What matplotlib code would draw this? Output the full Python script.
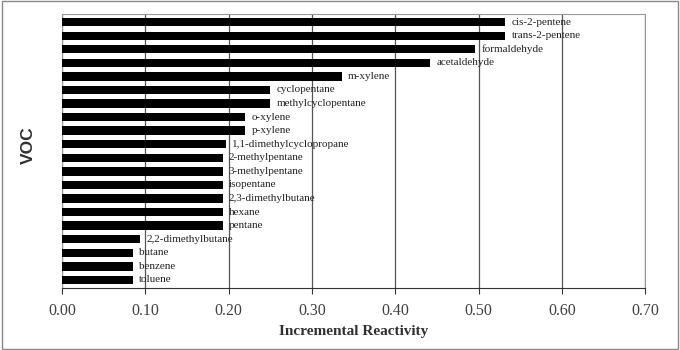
import matplotlib.pyplot as plt
import numpy as np

# compuestos, de arriba hacia abajo
voc = ["cis-2-pentene", "trans-2-pentene", "formaldehyde", "acetaldehyde",
       "m-xylene", "cyclopentane", "methylcyclopentane", "o-xylene", "p-xylene",
       "1,1-dimethylcyclopropane", "2-methylpentane", "3-methylpentane",
       "isopentane", "2,3-dimethylbutane", "hexane", "pentane",
       "2,2-dimethylbutane", "butane", "benzene", "toluene"]
reactivity = [0.532, 0.532, 0.496, 0.442, 0.336, 0.250, 0.250, 0.220, 0.220,
              0.197, 0.193, 0.193, 0.193, 0.193, 0.193, 0.193,
              0.094, 0.085, 0.085, 0.085]
xticks = [0.0, 0.1, 0.2, 0.3, 0.4, 0.5, 0.6, 0.7]

plt.rcParams['font.family'] = ['Liberation Serif', 'DejaVu Serif']

fig = plt.figure(figsize=(6.8, 3.5), dpi=100)
ax = fig.add_axes([0.091, 0.177, 0.858, 0.783])

y = np.arange(len(voc))[::-1]
ax.barh(y, reactivity, height=0.62, color="black", zorder=3)
for yi, v, name in zip(y, reactivity, voc):
    ax.text(v + 0.0075, yi, name, va="center", ha="left", fontsize=8,
            color="#222222", zorder=4)

ax.set_xlim(0, 0.7)
ax.set_ylim(-0.6, len(voc) - 0.4)
ax.set_xticks(xticks)
ax.set_xticklabels([f"{t:.2f}" for t in xticks], fontsize=11.5, color="#404040")
ax.set_yticks([])
ax.xaxis.grid(True, color="#555555", linewidth=0.9, zorder=0)
ax.tick_params(axis="x", direction="out", length=4, color="#333333", pad=7)

for s in ["top", "right", "left"]:
    ax.spines[s].set_color("#999999")
    ax.spines[s].set_linewidth(0.8)
ax.spines["bottom"].set_color("#333333")

ax.set_xlabel("Incremental Reactivity", fontsize=11, fontweight="bold",
              color="#303030", labelpad=4)
ax.set_ylabel("VOC", fontsize=12.5, fontweight="bold", color="#303030",
              family=["Liberation Sans", "DejaVu Sans"])
ax.yaxis.set_label_coords(-0.045, 0.52)

# marco exterior
fig.patches.append(plt.Rectangle((0.003, 0.004), 0.994, 0.992,
                                 transform=fig.transFigure, fill=False,
                                 edgecolor="#888888", linewidth=1))

fig.savefig("out.png", dpi=100)
